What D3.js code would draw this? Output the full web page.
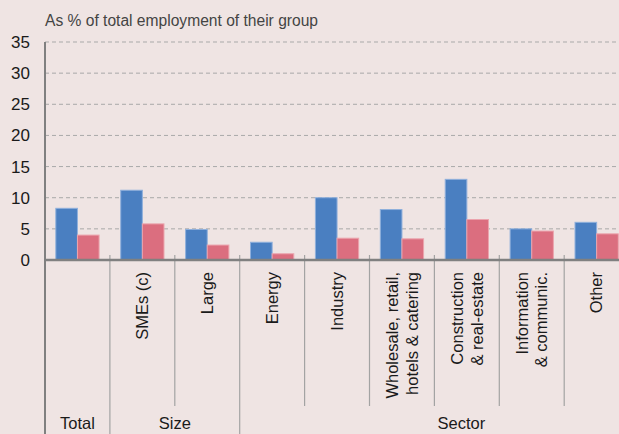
<!DOCTYPE html>
<html>
<head>
<meta charset="utf-8">
<script src="https://cdn.jsdelivr.net/npm/d3@7"></script>
<style>
    body { margin: 0; background: #efe4e3; }
    svg { display: block; font-family: "Liberation Sans", Arial, sans-serif; }
</style>
</head>
<body>
<div id="canvas"></div>
<script>
"use strict"

// chart data
let categories = ["Total", "SMEs (c)", "Large", "Energy", "Industry",
    "Wholesale, retail,|hotels & catering", "Construction|& real-estate",
    "Information|& communic.", "Other"];
let blueValues = [8.3, 11.2, 4.9, 2.85, 10.0, 8.1, 12.95, 5.0, 6.05];
let pinkValues = [4.0, 5.8, 2.4, 1.0, 3.5, 3.4, 6.5, 4.65, 4.2];
let yTicks = [0, 5, 10, 15, 20, 25, 30, 35];
let groups = [
    { name: "Total", first: "Total", last: "Total" },
    { name: "Size", first: "SMEs (c)", last: "Large" },
    { name: "Sector", first: "Energy", last: "Other" }
];

let drawing = d3.select("#canvas")
    .append("svg")
    .attr("width", 619)
    .attr("height", 434);

drawing.append("rect")
    .attr("width", 619)
    .attr("height", 434)
    .attr("fill", "#efe4e3");

let plotLeft = 45, plotTop = 42, zeroY = 260;

let x = d3.scaleBand()
    .domain(categories)
    .range([plotLeft, plotLeft + 9 * 64.9])
    .paddingInner(0)
    .paddingOuter(0);

let xSeries = d3.scaleBand()
    .domain(["blue", "pink"])
    .range([0, x.bandwidth()])
    .paddingInner(0)
    .paddingOuter(0.5);

let y = d3.scaleLinear()
    .domain([0, 35])
    .range([zeroY, plotTop]);

// title
drawing.append("text")
    .attr("x", 45)
    .attr("y", 26)
    .attr("font-size", 15.6)
    .attr("fill", "#444")
    .text("As % of total employment of their group");

// dashed grid lines
drawing.append("g")
    .selectAll("line")
    .data(yTicks.filter(d => d > 0))
    .join("line")
    .attr("x1", plotLeft)
    .attr("x2", 619)
    .attr("y1", d => y(d))
    .attr("y2", d => y(d))
    .attr("stroke", "#a9a9a9")
    .attr("stroke-width", 1)
    .attr("stroke-dasharray", "4,3");

// y tick labels
drawing.append("g")
    .selectAll("text")
    .data(yTicks)
    .join("text")
    .attr("x", 30)
    .attr("y", d => y(d))
    .attr("dy", "0.35em")
    .attr("text-anchor", "end")
    .attr("font-size", 17)
    .attr("fill", "#1a1a1a")
    .text(d => d);

// bars
let barData = categories.map((c, i) => ({ c: c, blue: blueValues[i], pink: pinkValues[i] }));

let barGroups = drawing.append("g")
    .selectAll("g")
    .data(barData)
    .join("g")
    .attr("transform", d => "translate(" + x(d.c) + ",0)");

barGroups.append("rect")
    .attr("x", xSeries("blue"))
    .attr("y", d => y(d.blue))
    .attr("width", xSeries.bandwidth())
    .attr("height", d => zeroY - y(d.blue))
    .attr("fill", "#4a7fc1")
    .attr("stroke", "#8fb0dc")
    .attr("stroke-width", 1);

barGroups.append("rect")
    .attr("x", xSeries("pink"))
    .attr("y", d => y(d.pink))
    .attr("width", xSeries.bandwidth())
    .attr("height", d => zeroY - y(d.pink))
    .attr("fill", "#db6e7f")
    .attr("stroke", "#eba4ad")
    .attr("stroke-width", 1);

// separators between categories, long ones at group boundaries
let groupStarts = groups.map(g => g.first);
let sepData = categories.map(c => ({ xPos: x(c), long: groupStarts.includes(c) }));
sepData.push({ xPos: x.range()[1], long: true });

drawing.append("g")
    .selectAll("line")
    .data(sepData.filter(d => d.xPos > plotLeft))
    .join("line")
    .attr("x1", d => d.xPos)
    .attr("x2", d => d.xPos)
    .attr("y1", 255)
    .attr("y2", d => d.long ? 434 : 406)
    .attr("stroke", "#a3a3a3")
    .attr("stroke-width", 1.2);

// axes
drawing.append("line")
    .attr("x1", plotLeft)
    .attr("x2", plotLeft)
    .attr("y1", plotTop)
    .attr("y2", 434)
    .attr("stroke", "#808080")
    .attr("stroke-width", 2);

drawing.append("line")
    .attr("x1", plotLeft - 1)
    .attr("x2", 619)
    .attr("y1", zeroY)
    .attr("y2", zeroY)
    .attr("stroke", "#808080")
    .attr("stroke-width", 2.5);

// rotated category labels (Total has none here)
let labels = drawing.append("g")
    .selectAll("text")
    .data(categories.filter(c => c != "Total"))
    .join("text")
    .attr("transform", c => "translate(" + (x(c) + x.bandwidth() / 2) + ",272) rotate(-90)")
    .attr("text-anchor", "end")
    .attr("font-size", 16.5)
    .attr("fill", "#1a1a1a");

labels.each(function (c) {
    let lines = c.split("|");
    let t = d3.select(this);
    lines.forEach((line, i) => {
        t.append("tspan")
            .attr("x", 0)
            .attr("dy", i == 0 ? (0.35 - (lines.length - 1) * 0.6) + "em" : "1.2em")
            .text(line);
    });
});

// group labels along the bottom
drawing.append("g")
    .selectAll("text")
    .data(groups)
    .join("text")
    .attr("x", g => {
        let x0 = x(g.first);
        let x1 = x(g.last) + x.bandwidth();
        if (g.name == "Sector") x1 += 54; // the sector block runs past the picture edge
        return (x0 + x1) / 2;
    })
    .attr("y", 429)
    .attr("text-anchor", "middle")
    .attr("font-size", 16.5)
    .attr("fill", "#1a1a1a")
    .text(g => g.name);
</script>
</body>
</html>
